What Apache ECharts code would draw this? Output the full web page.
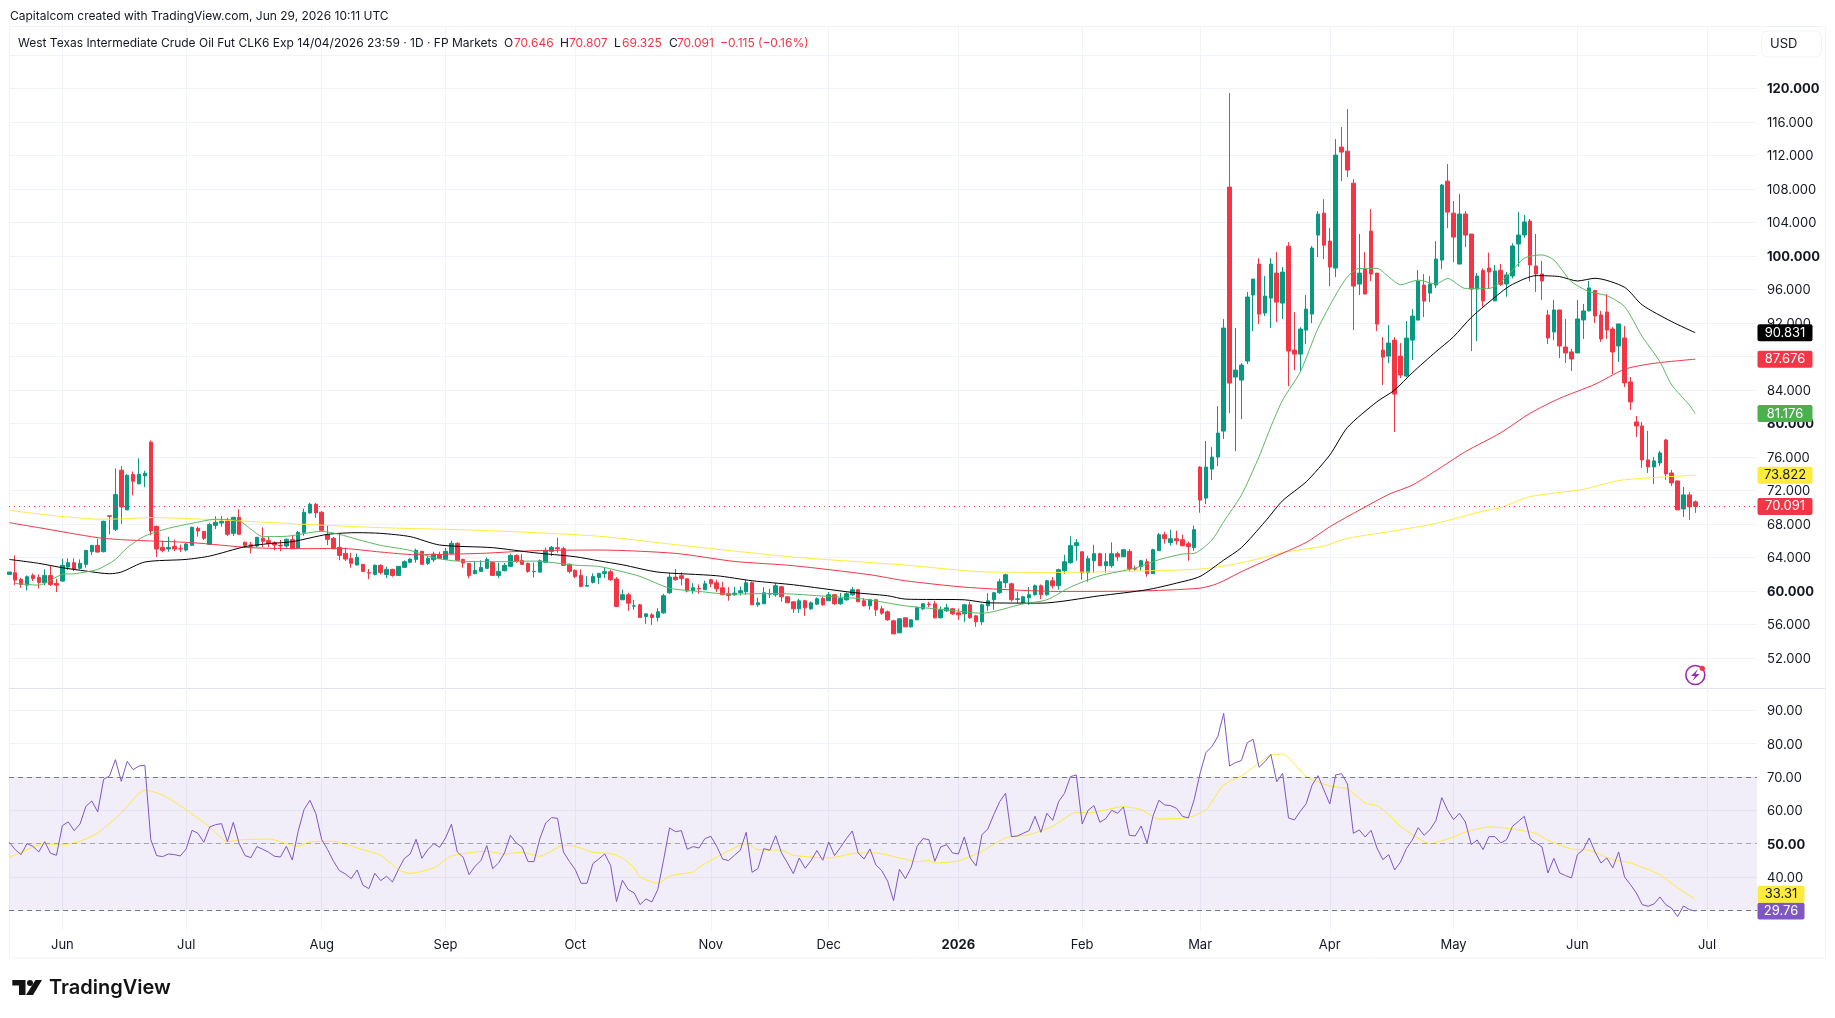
<!DOCTYPE html>
<html>
<head>
<meta charset="utf-8">
<title>CLK6 daily chart</title>
<script src="https://cdn.jsdelivr.net/npm/echarts@6/dist/echarts.min.js"></script>
<style>
  html, body { margin: 0; padding: 0; background: #fff; }
  #chart { width: 1835px; height: 1018px; }
</style>
</head>
<body>
<div id="chart"></div>
<script>
// Daily OHLC, one entry per trading session.
const opens = [
  61.98,62.18,61.38,60.70,61.86,61.62,60.98,61.86,60.90,61.18,
  62.86,63.38,62.70,63.18,64.69,65.45,64.69,68.98,67.36,74.42,
  69.68,73.90,72.79,73.74,77.77,67.72,65.21,65.01,65.33,65.05,
  64.89,65.45,67.48,67.12,65.57,67.84,68.12,68.36,66.88,68.80,
  65.81,65.53,65.37,66.29,66.01,65.77,65.45,65.37,66.13,65.09,
  67.00,69.32,70.35,69.40,66.73,66.29,65.21,64.49,63.89,63.10,
  63.18,62.18,61.98,63.06,61.98,62.58,61.86,62.82,63.42,63.77,
  64.73,63.30,63.73,64.29,63.77,64.49,65.69,63.77,63.30,62.06,
  62.34,62.70,63.42,61.86,62.42,62.94,64.25,63.66,63.30,62.30,
  62.26,63.42,64.73,65.17,65.05,63.18,62.46,61.86,60.58,61.02,
  61.62,62.10,62.30,61.42,58.95,59.55,58.19,58.35,56.96,57.15,
  56.84,57.39,59.79,61.66,61.82,61.46,60.03,60.30,60.15,61.34,
  60.98,60.38,59.67,59.55,59.79,59.91,60.98,58.35,58.47,59.63,
  59.55,60.50,59.31,58.71,57.87,58.83,57.87,58.43,59.11,58.83,
  59.55,58.47,58.95,59.55,60.15,58.83,58.23,58.95,57.87,57.51,
  56.44,55.00,56.80,55.72,56.56,57.87,58.43,58.47,56.80,57.63,
  57.87,57.39,57.27,58.35,57.03,56.32,58.23,58.95,59.79,60.98,
  60.86,58.99,58.59,59.19,59.55,60.62,59.55,61.22,60.62,62.42,
  63.37,65.41,64.69,62.18,63.61,64.45,63.02,63.02,64.45,64.09,
  64.73,62.66,62.90,63.49,62.06,64.81,66.72,65.77,66.24,66.12,
  65.65,65.17,74.79,71.09,74.55,75.99,79.09,108.22,85.54,85.18,
  87.45,95.33,99.03,93.18,94.97,97.95,94.37,101.17,88.76,88.28,
  91.15,93.06,102.49,105.11,101.77,98.55,112.99,112.51,108.69,96.64,
  98.43,102.97,97.95,88.76,88.04,89.95,88.04,85.66,89.95,92.34,
  96.52,95.56,96.52,99.50,108.93,105.11,99.03,105.00,102.61,96.04,
  98.25,98.56,94.63,98.29,96.65,97.61,101.43,102.50,104.17,98.80,
  97.85,92.95,90.92,93.55,89.13,88.54,88.42,92.36,93.43,95.86,
  92.95,93.31,91.28,89.25,90.21,84.96,80.18,79.70,75.65,74.81,
  75.29,78.03,74.09,73.14,69.80,71.47,70.646
];
const closes = [
  62.26,61.30,60.78,61.70,61.50,61.02,61.86,60.78,60.70,63.06,
  63.38,62.62,63.30,64.85,65.45,64.65,68.32,68.92,71.51,70.03,
  73.82,73.10,73.94,74.06,67.16,65.01,64.85,65.21,65.01,65.01,
  65.61,67.60,67.16,66.29,67.92,68.20,68.32,66.77,68.80,66.77,
  65.45,65.29,66.41,65.93,65.65,65.49,65.37,66.17,65.05,67.00,
  69.40,70.35,69.32,67.24,66.17,65.05,64.25,63.81,63.30,64.01,
  62.34,62.14,63.06,62.22,62.58,61.86,62.94,63.50,63.81,64.85,
  63.18,63.89,64.41,63.89,64.73,65.69,63.66,63.34,61.86,62.46,
  62.82,63.77,61.86,62.34,63.06,64.25,63.54,63.18,62.34,62.34,
  63.61,64.85,65.21,65.05,63.06,62.34,61.74,60.55,60.66,61.74,
  62.10,62.30,61.34,58.15,59.55,58.55,58.23,56.84,57.27,56.84,
  57.51,59.43,61.66,61.34,61.50,59.99,60.38,60.26,60.86,60.86,
  60.26,59.55,59.47,59.75,60.03,60.98,58.35,58.59,59.79,59.67,
  60.62,59.31,58.59,57.87,58.83,57.99,58.59,59.07,58.35,59.55,
  58.47,59.11,59.67,60.15,58.71,58.23,58.95,57.75,57.35,56.56,
  54.88,56.68,55.72,56.56,57.99,58.47,58.39,56.80,57.75,57.99,
  57.27,57.15,58.35,56.80,56.32,58.35,58.83,59.79,61.10,61.94,
  58.95,59.07,59.31,59.55,60.62,59.55,61.22,60.62,62.54,63.49,
  65.41,65.77,62.18,63.85,64.45,63.02,63.49,64.45,64.09,64.93,
  62.66,62.62,63.61,62.06,64.93,66.72,66.24,66.24,66.00,65.41,
  65.29,67.32,70.85,74.79,75.99,78.85,91.39,84.82,86.37,86.97,
  95.09,97.24,93.06,95.21,99.03,94.49,98.07,88.64,88.28,91.27,
  93.65,100.94,105.00,101.29,98.67,112.04,112.40,110.25,96.40,97.95,
  95.45,97.83,91.86,87.92,89.60,83.51,85.78,90.19,92.82,97.00,
  94.61,96.64,99.62,108.46,105.23,102.25,105.00,102.49,96.04,97.59,
  94.63,98.09,98.21,96.61,97.73,101.19,102.50,104.06,98.92,97.85,
  97.01,90.21,93.55,89.25,88.42,87.70,92.48,93.43,96.18,92.83,
  90.09,91.16,88.54,91.88,84.84,82.57,79.70,75.65,74.81,75.53,
  76.48,73.97,72.90,69.68,71.47,70.04,70.091
];
const lows = [
  61.98,60.70,60.39,60.07,61.18,60.31,60.70,60.58,59.87,61.10,
  62.50,62.38,62.58,62.78,64.29,64.57,64.61,66.77,67.16,68.00,
  69.68,71.43,72.75,72.39,66.65,64.05,64.61,64.69,64.77,64.65,
  64.73,65.41,66.49,66.09,65.57,67.40,67.68,66.57,66.57,66.77,
  65.13,64.49,65.21,65.25,65.25,64.85,64.77,65.17,65.05,65.05,
  66.60,69.24,68.72,67.16,65.49,64.97,63.66,63.57,62.78,63.06,
  62.34,61.42,61.86,61.98,61.54,61.70,61.78,62.78,63.30,63.38,
  63.14,63.10,63.46,63.85,63.69,64.41,63.62,62.78,61.54,62.02,
  62.26,62.70,61.86,61.54,62.34,62.90,63.38,63.10,62.18,61.62,
  62.18,63.38,64.17,64.57,62.98,62.10,61.54,60.43,60.58,60.90,
  60.82,61.54,61.22,58.15,58.95,57.63,57.75,56.84,56.08,55.96,
  56.36,57.27,59.67,61.22,60.66,59.83,59.67,59.67,60.15,60.46,
  59.87,59.55,58.83,59.43,59.47,59.55,58.35,58.11,58.47,59.15,
  59.31,58.71,58.59,57.39,57.39,57.03,57.75,58.35,58.23,58.83,
  58.35,58.35,58.83,59.43,58.71,58.15,57.75,57.03,57.15,56.44,
  54.88,55.00,55.72,55.64,56.52,57.75,58.07,56.72,56.72,57.51,
  57.15,56.56,56.32,56.68,55.72,55.96,57.63,57.75,59.67,60.38,
  58.71,58.59,58.47,58.35,59.43,59.03,59.43,60.30,60.15,62.06,
  63.25,63.61,61.34,61.10,62.18,63.02,62.18,62.78,63.61,64.05,
  62.30,62.42,62.42,61.70,62.06,64.81,65.65,65.41,65.53,65.33,
  63.61,64.81,69.34,70.38,73.24,74.91,78.14,81.24,76.70,80.52,
  87.09,91.03,91.86,92.82,91.39,92.10,92.46,84.46,86.37,86.25,
  89.48,91.98,99.86,99.62,96.40,97.47,108.93,109.41,91.15,95.33,
  95.45,97.00,91.03,84.58,87.21,78.97,85.42,85.54,87.57,92.34,
  92.70,94.49,96.16,98.43,103.32,99.26,99.03,101.05,88.64,89.83,
  93.95,96.14,94.63,96.42,95.14,97.33,98.72,102.18,96.93,95.70,
  94.74,89.49,89.93,87.82,87.22,86.27,88.42,90.09,93.43,92.00,
  89.73,90.09,85.91,87.34,84.36,81.61,78.39,74.69,74.09,72.78,
  74.93,73.26,72.54,69.68,68.84,68.48,69.325
];
const highs = [
  62.26,64.25,61.58,61.86,62.10,61.98,62.58,63.06,61.46,63.85,
  63.89,63.89,63.77,64.85,65.45,66.25,68.40,69.04,74.62,74.90,
  73.94,74.26,75.85,74.34,77.97,67.80,66.01,66.49,66.13,65.53,
  65.77,67.68,67.68,67.12,68.16,68.92,68.96,68.72,68.80,69.76,
  65.89,65.85,66.41,67.60,66.49,65.93,66.09,66.25,66.69,67.16,
  69.83,70.55,70.51,69.56,67.80,66.45,66.84,65.17,64.57,64.45,
  63.18,62.62,63.18,63.18,62.90,62.66,62.98,63.66,63.89,65.05,
  64.81,64.17,64.69,64.69,65.13,66.01,65.81,63.85,63.30,63.46,
  63.66,64.01,63.54,63.38,63.34,64.45,64.37,64.41,63.38,63.38,
  63.77,65.17,65.37,66.37,65.29,63.30,62.58,62.58,61.78,62.10,
  62.18,62.82,62.54,61.66,60.15,59.79,58.95,58.47,57.27,57.35,
  57.95,59.67,62.14,62.62,62.22,61.46,60.94,60.78,61.22,61.46,
  61.34,61.10,60.46,60.50,60.54,61.34,61.14,59.19,60.46,60.26,
  60.94,60.62,59.31,58.71,59.07,58.95,58.75,59.23,59.35,59.87,
  59.63,59.75,59.83,60.46,60.26,59.15,59.07,59.07,58.23,57.67,
  56.56,56.76,56.80,56.64,58.15,58.55,58.71,58.83,58.15,58.47,
  57.99,57.91,58.47,58.75,57.15,58.47,59.75,59.83,61.46,62.06,
  60.98,59.91,59.43,60.46,60.78,60.78,61.34,61.66,62.66,64.33,
  66.52,66.21,64.69,64.21,65.53,64.57,64.53,65.81,64.69,65.01,
  65.01,63.02,63.73,63.85,65.05,66.92,67.08,67.32,67.20,66.72,
  65.89,67.80,74.91,77.90,77.18,82.07,92.46,119.44,91.39,87.21,
  95.68,97.24,99.74,97.59,99.74,100.46,98.67,101.65,93.30,91.51,
  95.33,101.17,105.35,106.78,103.32,113.95,115.38,117.53,109.17,102.61,
  100.46,105.59,97.95,90.31,91.74,90.31,89.60,92.22,93.65,98.31,
  97.83,97.59,101.77,108.58,110.96,106.55,107.38,105.35,102.61,97.95,
  98.52,100.39,98.92,99.04,98.09,101.51,105.25,104.89,104.41,102.62,
  99.40,93.55,94.74,93.55,92.48,88.90,94.74,94.27,97.01,95.94,
  93.43,95.46,91.52,91.88,91.64,85.55,80.90,80.18,79.11,76.00,
  76.72,78.15,74.45,73.14,72.42,71.82,70.807
];

// Moving averages as [session, price] pairs.
const fastAverage = [
  [1,60.9],[5,60.7],[9,61.98],[11,62.06],[15,62.58],[18,63.77],[20,65.17],[23,66.56],[27,67.48],
  [31,68.08],[35,68.56],[39,68.36],[41,67.36],[43,66.49],[47,66.53],[53,67.12],[56,66.76],[59,66.17],
  [63,65.45],[68,64.85],[72,63.97],[76,63.57],[83,63.5],[89,63.57],[96,63.08],[100,62.93],[104,62.3],
  [107,61.74],[112,60.34],[117,59.95],[122,59.63],[130,59.7],[139,59.35],[145,59.03],[152,58.23],
  [159,57.75],[165,57.35],[172,58.47],[176,58.95],[180,60.46],[185,61.82],[191,62.74],[195,63.73],
  [199,64.41],[201,64.49],[204,66.08],[206,68.27],[209,71.45],[212,76.03],[214,79.6],[216,82.79],
  [219,86.17],[222,91.35],[225,95.33],[227,97.51],[229,98.51],[232,98.51],[234,97.51],[236,96.56],
  [239,97.12],[242,96.64],[244,97.32],[247,96.12],[251,96.12],[254,97.53],[257,99.72],[260,100.12],
  [262,99.52],[265,96.93],[268,95.74],[271,95.26],[274,93.95],[277,90.37],[280,87.38],[282,84.6],
  [285,82.2],[286,81.176]
];
const mediumAverage = [
  [0,63.77],[5,63.3],[9,62.78],[13,62.38],[17,62.06],[19,62.26],[23,63.46],[30,63.77],[34,64.17],
  [40,65.29],[44,65.65],[48,65.89],[54,66.76],[59,66.96],[63,66.88],[68,66.49],[73,65.49],[82,65.17],
  [89,64.57],[96,64.09],[100,63.6],[104,63.13],[110,62.26],[120,61.82],[126,61.22],[133,60.74],
  [143,59.83],[149,59.43],[152,59.03],[162,58.95],[166,58.59],[175,58.55],[185,59.43],[193,60.15],
  [198,60.94],[202,61.74],[206,63.69],[209,65.17],[213,68.27],[216,70.78],[220,73.04],[224,76.23],
  [227,79.53],[232,82.59],[235,83.99],[238,86.05],[242,88.56],[245,90.35],[248,92.66],[253,95.64],
  [255,96.61],[259,97.65],[263,97.53],[266,97.01],[269,97.33],[274,96.26],[277,94.15],[282,92.16],
  [286,90.831]
];
const slowAverage = [
  [0,68.16],[5,67.56],[15,66.37],[20,66.09],[31,65.77],[41,65.17],[50,65.05],[56,65.09],[63,64.65],
  [69,64.33],[80,64.49],[89,64.81],[100,64.89],[113,64.49],[123,63.53],[133,63.02],[146,61.94],
  [152,61.22],[162,60.46],[172,60.07],[178,59.95],[191,59.99],[202,60.34],[205,60.9],[209,62.3],
  [214,63.9],[220,65.8],[224,67.67],[228,69.26],[234,71.53],[238,72.64],[242,74.36],[247,76.63],
  [253,78.89],[258,81.22],[263,83.0],[269,84.68],[274,86.47],[279,87.18],[286,87.676]
];
const longAverage = [
  [0,69.63],[8,68.96],[16,68.56],[20,68.64],[24,68.76],[37,68.44],[50,67.96],[63,67.56],[80,67.24],
  [100,66.54],[113,65.53],[133,64.05],[152,63.1],[165,62.3],[178,62.22],[191,62.38],[202,62.62],
  [207,63.1],[211,63.69],[216,64.57],[223,65.37],[227,66.28],[235,67.19],[242,68.07],[250,69.54],
  [253,69.94],[258,71.27],[267,72.14],[273,73.18],[279,73.54],[286,73.822]
];

// Relative strength index, one value per session.
const rsiValues = [
  50.4,48.2,46.7,50.0,49.2,47.5,50.6,47.1,46.5,55.4,
  56.5,53.9,55.9,61.2,62.8,59.5,69.3,70.3,75.2,68.7,
  74.7,72.2,73.3,73.5,51.2,46.4,46.1,46.9,46.7,46.3,
  48.4,54.0,53.1,50.4,55.0,55.7,56.0,50.6,56.4,50.0,
  46.4,45.8,49.1,48.3,47.4,46.2,46.0,49.2,45.1,53.7,
  60.2,63.0,59.0,51.2,48.2,44.7,41.9,40.9,39.5,42.1,
  37.5,36.5,41.1,38.9,40.2,38.5,42.2,45.5,46.9,51.3,
  45.6,48.2,50.0,48.9,51.7,55.8,47.5,45.9,40.7,43.2,
  44.9,49.4,42.5,44.2,47.2,52.5,50.2,48.9,44.6,44.6,
  51.5,56.2,57.8,57.6,47.5,44.7,42.2,38.1,38.1,44.0,
  45.4,46.9,43.5,32.6,39.0,36.2,35.2,31.7,33.4,32.5,
  36.2,45.2,54.7,53.6,53.9,48.3,49.1,48.7,51.5,52.2,
  49.2,45.4,44.9,46.5,48.0,53.4,41.4,42.5,48.5,48.0,
  52.4,47.2,44.2,41.0,45.7,42.6,44.9,47.9,45.0,50.5,
  46.4,48.9,51.5,53.8,47.2,45.4,48.4,43.6,41.9,38.7,
  32.9,42.3,39.5,42.9,49.2,51.5,51.2,44.7,49.0,49.7,
  47.2,46.9,52.0,45.7,43.3,52.7,54.4,58.7,62.6,65.1,
  52.1,52.3,53.1,53.9,58.2,53.4,59.1,57.0,62.6,65.1,
  70.1,70.6,55.9,60.0,61.4,56.4,57.5,60.0,59.1,61.0,
  52.5,52.3,55.3,50.1,58.2,63.0,61.6,61.4,60.6,58.2,
  57.7,63.2,71.1,77.4,79.1,82.1,89.1,73.3,74.3,74.9,
  80.3,81.3,72.9,74.6,76.8,68.6,71.1,57.7,57.1,59.7,
  62.0,67.6,70.4,66.1,61.9,70.6,71.0,67.9,53.1,54.1,
  52.0,54.0,48.7,45.2,46.7,42.1,44.5,48.5,51.1,54.8,
  52.5,54.2,56.9,63.8,60.0,57.2,59.1,56.5,49.7,51.1,
  48.2,52.1,52.1,50.2,51.2,55.2,56.7,58.2,51.4,50.2,
  49.0,41.2,45.6,41.2,40.4,39.7,46.7,48.2,51.7,47.5,
  44.2,45.7,42.7,47.5,40.0,37.7,35.2,31.7,31.2,31.9,
  34.0,31.7,30.6,28.1,31.3,30.2,29.76
];
const rsiAverage = [
  [0,45.9],[3,48.2],[6,50.0],[9,49.6],[12,50.7],[15,53.2],[19,59.2],[23,66.1],[26,64.6],[29,61.4],
  [34,55.0],[37,50.6],[39,51.1],[44,51.4],[49,49.2],[51,50.5],[55,50.7],[59,48.7],[63,46.5],[66,42.2],
  [68,41.1],[72,42.7],[75,46.3],[81,47.7],[84,46.9],[87,47.4],[90,46.2],[94,49.5],[96,49.2],[99,47.4],
  [102,47.0],[104,45.7],[106,42.7],[107,40.0],[110,38.1],[112,40.2],[115,41.2],[116,41.5],[117,42.9],
  [121,46.9],[125,50.0],[127,48.2],[131,48.0],[133,46.5],[139,45.7],[144,47.2],[147,47.2],[151,45.7],
  [154,44.6],[156,44.9],[157,44.2],[161,44.8],[165,47.7],[169,51.7],[173,52.7],[177,55.2],[181,59.4],
  [183,59.2],[189,61.1],[192,60.2],[195,57.4],[200,57.8],[203,60.2],[206,67.6],[209,70.3],[211,72.9],
  [214,76.6],[216,76.9],[220,70.1],[224,67.3],[227,66.4],[230,62.2],[232,61.4],[234,58.7],[236,55.2],
  [241,50.0],[245,52.0],[247,53.5],[251,55.0],[255,54.4],[259,53.0],[261,51.0],[265,48.4],[268,48.0],
  [272,45.2],[275,44.2],[280,40.7],[283,36.7],[286,33.31]
];

// Month boundaries on the time scale, by session number.
const monthSessions = [9,30,53,74,96,119,139,161,182,202,224,245,266,288];
const monthLabels = ['Jun','Jul','Aug','Sep','Oct','Nov','Dec','2026','Feb','Mar','Apr','May','Jun','Jul'];

const priceTicksBold = 20;
const rsiLevels = [70, 50, 30];

const FONT = 'Inter';
const INK = '#131722';
const GRID = '#f0f3fa';
const UP = '#089981';
const DOWN = '#f23645';
const PURPLE = '#7e57c2';
const YELLOW = '#ffeb3b';
const GREEN = '#4caf50';

// Visible session window on the time scale.
const firstSession = -0.05;
const lastSession = 296.47;
const lastIndex = opens.length - 1;

const candleData = opens.map((o, i) => [i, o, closes[i], lows[i], highs[i]]);
const rsiData = rsiValues.map((v, i) => [i, v]);

// Small-radius tag outlines for the right-hand scale.
const TAG_WIDE = 'path://M2,0H53a2,2 0 0 1 2,2V15a2,2 0 0 1-2,2H2a2,2 0 0 1-2-2V2a2,2 0 0 1 2-2z';
const TAG_NARROW = 'path://M2,0H45a2,2 0 0 1 2,2V15a2,2 0 0 1-2,2H2a2,2 0 0 1-2-2V2a2,2 0 0 1 2-2z';

// Coloured value tag docked against the right-hand scale.
function valueTag(value, digits, bg, fg, dy, narrow) {
  return {
    symbol: narrow ? TAG_NARROW : TAG_WIDE,
    symbolSize: narrow ? [47, 17] : [55, 17],
    symbolOffset: [narrow ? 24 : 28, dy || 0],
    silent: true,
    itemStyle: { color: bg },
    label: { show: true, position: 'inside', color: fg, fontFamily: FONT, fontSize: 13,
             formatter: value.toFixed(digits) },
    data: [{ coord: [lastSession, value] }]
  };
}

function averageLine(data, color, tagColor, tag, xi, yi, digits, tagFg, dy) {
  return {
    type: 'line', data, xAxisIndex: xi, yAxisIndex: yi,
    showSymbol: false, smooth: 0.25, silent: true, z: 3,
    lineStyle: { color, width: 1 },
    markPoint: valueTag(tag, digits, tagColor, tagFg, dy, xi === 1)
  };
}

function headerPiece(text, left, color, top) {
  return { text, left, top, textStyle: { color, fontFamily: FONT, fontSize: 12, fontWeight: 'normal' }, padding: 0 };
}

const lastClose = closes[lastIndex];

const option = {
  animation: false,
  backgroundColor: '#ffffff',
  title: [
    headerPiece('Capitalcom created with TradingView.com, Jun 29, 2026 10:11 UTC', 10, INK, 10),
    headerPiece('West Texas Intermediate Crude Oil Fut CLK6 Exp 14/04/2026 23:59 · 1D · FP Markets', 18, INK, 37),
    headerPiece('O', 504, INK, 37), headerPiece('70.646', 514, DOWN, 37),
    headerPiece('H', 560, INK, 37), headerPiece('70.807', 569, DOWN, 37),
    headerPiece('L', 614, INK, 37), headerPiece('69.325', 622, DOWN, 37),
    headerPiece('C', 669, INK, 37), headerPiece('70.091', 677, DOWN, 37),
    headerPiece('−0.115 (−0.16%)', 720, DOWN, 37)
  ],
  grid: [
    { left: 9, width: 1748, top: 54.9, height: 603.1 },
    { left: 9, width: 1748, top: 677, height: 266.6 },
    { left: 9, width: 1748, top: 27, height: 903 }
  ],
  xAxis: [
    { type: 'value', gridIndex: 0, min: firstSession, max: lastSession, show: false },
    { type: 'value', gridIndex: 1, min: firstSession, max: lastSession, show: false },
    {
      type: 'value', gridIndex: 2, min: firstSession, max: lastSession,
      axisLine: { show: false },
      axisTick: { show: false, customValues: monthSessions },
      splitLine: { show: true, lineStyle: { color: GRID, width: 1 } },
      axisLabel: {
        customValues: monthSessions, margin: 9, color: INK, fontFamily: FONT, fontSize: 13,
        formatter: v => {
          const label = monthLabels[monthSessions.indexOf(v)];
          return label === '2026' ? '{b|2026}' : label;
        },
        rich: { b: { fontWeight: 'bold', fontFamily: FONT, fontSize: 13, color: INK } }
      }
    }
  ],
  yAxis: [
    {
      type: 'value', gridIndex: 0, position: 'right', min: 52, max: 124, interval: 4,
      axisLine: { show: false }, axisTick: { show: false },
      splitLine: { lineStyle: { color: GRID, width: 1 } },
      axisLabel: {
        showMaxLabel: false, margin: 10, color: INK, fontFamily: FONT, fontSize: 13, padding: [2, 0, 0, 0],
        formatter: v => v % priceTicksBold === 0 ? '{b|' + v.toFixed(3) + '}' : v.toFixed(3),
        rich: { b: { fontWeight: 'bold', fontFamily: FONT, fontSize: 13, color: INK } }
      }
    },
    {
      type: 'value', gridIndex: 1, position: 'right', min: 20, max: 100, interval: 10,
      axisLine: { show: false }, axisTick: { show: false },
      splitLine: { showMinLine: false, showMaxLine: false, lineStyle: { color: GRID, width: 1 } },
      axisLabel: {
        showMinLabel: false, showMaxLabel: false, margin: 10, color: INK, fontFamily: FONT, fontSize: 13, padding: [2, 0, 0, 0],
        formatter: v => v === 50 ? '{b|50.00}' : v.toFixed(2),
        rich: { b: { fontWeight: 'bold', fontFamily: FONT, fontSize: 13, color: INK } }
      }
    },
    { type: 'value', gridIndex: 2, min: 0, max: 1, show: false }
  ],
  series: [
    averageLine(longAverage, YELLOW, YELLOW, 73.822, 0, 0, 3, INK),
    averageLine(slowAverage, DOWN, DOWN, 87.676, 0, 0, 3, '#ffffff'),
    averageLine(mediumAverage, '#000000', '#000000', 90.831, 0, 0, 3, '#ffffff'),
    averageLine(fastAverage, '#5cb860', GREEN, 81.176, 0, 0, 3, '#ffffff'),
    {
      type: 'candlestick', xAxisIndex: 0, yAxisIndex: 0, data: candleData,
      encode: { x: 0, y: [1, 2, 3, 4] }, barWidth: 4, silent: true, z: 2,
      itemStyle: { color: UP, color0: DOWN, borderColor: UP, borderColor0: DOWN, borderWidth: 1 },
      markLine: {
        silent: true, symbol: 'none', label: { show: false },
        lineStyle: { color: DOWN, type: [1, 4], width: 1 },
        data: [{ yAxis: lastClose }]
      },
      markPoint: valueTag(lastClose, 3, DOWN, '#ffffff')
    },
    {
      type: 'line', data: rsiData, xAxisIndex: 1, yAxisIndex: 1, showSymbol: false, silent: true, z: 4,
      lineStyle: { color: PURPLE, width: 1 },
      markArea: {
        silent: true, itemStyle: { color: 'rgba(126,87,194,0.1)' },
        data: [[{ yAxis: rsiLevels[0] }, { yAxis: rsiLevels[2] }]]
      },
      markLine: {
        silent: true, symbol: 'none', label: { show: false },
        lineStyle: { color: '#787b86', type: [5, 4], width: 1 },
        data: [
          { yAxis: rsiLevels[0] },
          { yAxis: rsiLevels[1], lineStyle: { color: '#787b86', opacity: 0.6, type: [5, 4] } },
          { yAxis: rsiLevels[2] }
        ]
      },
      markPoint: valueTag(rsiValues[lastIndex], 2, PURPLE, '#ffffff', 0, true)
    },
    Object.assign(
      averageLine(rsiAverage, YELLOW, YELLOW, 33.31, 1, 1, 2, INK, -5),
      { smooth: 0.2 }
    )
  ],
  graphic: [
    // Outer frame and pane separator
    { type: 'rect', silent: true, z: -1, shape: { x: 9.5, y: 26.5, width: 1816, height: 931.5 },
      style: { fill: 'none', stroke: '#f0f3fa', lineWidth: 1 } },
    { type: 'line', silent: true, shape: { x1: 9, y1: 688.5, x2: 1825, y2: 688.5 },
      style: { stroke: '#e0e3eb', lineWidth: 1 } },
    // Currency button
    { type: 'rect', silent: true, shape: { x: 1761.5, y: 31, width: 60, height: 26, r: 6 },
      style: { fill: '#fff', stroke: '#f0f3fa', lineWidth: 1 } },
    { type: 'text', silent: true, style: { x: 1770, y: 38, text: 'USD', fill: INK, font: '13px Inter' } },
    // Data-events badge
    { type: 'circle', silent: true, shape: { cx: 1695.3, cy: 675, r: 9.5 },
      style: { fill: '#fff', stroke: '#9c27b0', lineWidth: 1.6 } },
    { type: 'polygon', silent: true, shape: { points: [[1698, 669], [1691, 676], [1695, 676], [1692.5, 681], [1699.5, 674], [1695.5, 674]] },
      style: { fill: '#9c27b0' } },
    { type: 'circle', silent: true, shape: { cx: 1702.3, cy: 668.3, r: 2.6 }, style: { fill: DOWN } },
    // Wordmark
    { type: 'polygon', silent: true, shape: { points: [[12.3, 980], [25.5, 980], [25.5, 995], [19, 995], [19, 985.5], [12.3, 985.5]] },
      style: { fill: '#131313' } },
    { type: 'circle', silent: true, shape: { cx: 30, cy: 983, r: 3 }, style: { fill: '#131313' } },
    { type: 'polygon', silent: true, shape: { points: [[35.5, 980], [42, 980], [33, 995], [26, 995]] },
      style: { fill: '#131313' } },
    { type: 'text', silent: true, style: { x: 49, y: 978, text: 'TradingView', fill: '#131313', font: '600 20px Inter' } }
  ]
};

const chart = echarts.init(document.getElementById('chart'), null, { renderer: 'canvas' });
chart.setOption(option);
</script>
</body>
</html>
